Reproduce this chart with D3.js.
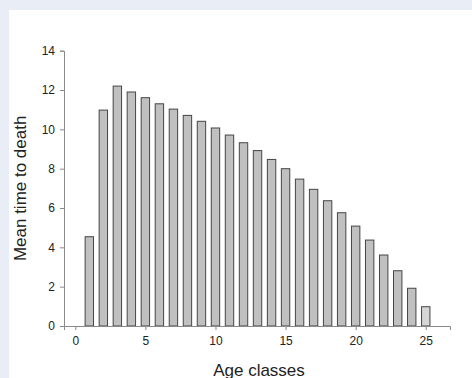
<!DOCTYPE html>
<html>
<head>
<meta charset="utf-8">
<script src="https://cdn.jsdelivr.net/npm/d3@7"></script>
<style>
  body { margin: 0; background: #e9eef6; }
  svg { display: block; }
</style>
</head>
<body>
<div id="chart"></div>
<script>
var width = 472;
var height = 378;

// age classes and mean time to death
var ages = [1, 2, 3, 4, 5, 6, 7, 8, 9, 10, 11, 12, 13, 14, 15, 16, 17, 18, 19, 20, 21, 22, 23, 24, 25];
var meanTime = [4.54, 10.98, 12.2, 11.9, 11.61, 11.3, 11.03, 10.71, 10.41, 10.07, 9.71, 9.32, 8.92, 8.47, 8.0,
                7.47, 6.95, 6.37, 5.76, 5.08, 4.37, 3.61, 2.81, 1.92, 0.98];
var xTicks = [0, 5, 10, 15, 20, 25];
var yTicks = [0, 2, 4, 6, 8, 10, 12, 14];

var FONT = "Liberation Sans, Arial, sans-serif";

var svg = d3
  .select("#chart")
  .append("svg")
  .attr("width", width)
  .attr("height", height);

// white panel
svg.append("rect")
  .attr("x", 9)
  .attr("y", 10)
  .attr("width", width - 9)
  .attr("height", height - 10)
  .attr("fill", "#fff");

var margin = { left: 64, right: 450, top: 50.7, bottom: 326 };

var xScale = d3.scaleLinear()
  .domain([-0.806, 26.73])
  .range([margin.left, margin.right]);

var yScale = d3.scaleLinear()
  .domain([0, 14])
  .range([margin.bottom, margin.top]);

var barW = 8.4;

// bars
svg.append("g")
  .selectAll("rect")
  .data(ages)
  .enter()
  .append("rect")
  .attr("x", function(d) { return xScale(d) - barW / 2; })
  .attr("y", function(d, i) { return yScale(meanTime[i]); })
  .attr("width", barW)
  .attr("height", function(d, i) { return yScale(0) - yScale(meanTime[i]); })
  .attr("fill", function(d, i) { return i === ages.length - 1 ? "#d6d6d6" : "#c0c0c0"; })
  .attr("stroke", "#454545")
  .attr("stroke-width", 1);

// axes
var xAxis = d3.axisBottom(xScale).tickValues(xTicks).tickSizeOuter(0).tickSize(4).tickPadding(6);
var yAxis = d3.axisLeft(yScale).tickValues(yTicks).tickSizeOuter(0).tickSize(4).tickPadding(5);

var gx = svg.append("g")
  .attr("transform", "translate(0," + margin.bottom + ")")
  .call(xAxis);
var gy = svg.append("g")
  .attr("transform", "translate(" + margin.left + ",0)")
  .call(yAxis);

[gx, gy].forEach(function(g) {
  g.attr("font-size", 12).attr("font-family", FONT);
  g.select(".domain").attr("stroke", "#8a8a8a");
  g.selectAll(".tick line").attr("stroke", "#8a8a8a");
  g.selectAll(".tick text").attr("fill", "#222");
});

// axis titles
svg.append("text")
  .attr("x", (margin.left + margin.right) / 2 + 2)
  .attr("y", 376)
  .attr("text-anchor", "middle")
  .style("font-family", FONT)
  .style("font-size", "17px")
  .style("fill", "#222")
  .text("Age classes");

svg.append("text")
  .attr("transform", "translate(26," + (margin.top + margin.bottom) / 2 + ") rotate(-90)")
  .attr("text-anchor", "middle")
  .style("font-family", FONT)
  .style("font-size", "17px")
  .style("fill", "#222")
  .text("Mean time to death");
</script>
</body>
</html>
